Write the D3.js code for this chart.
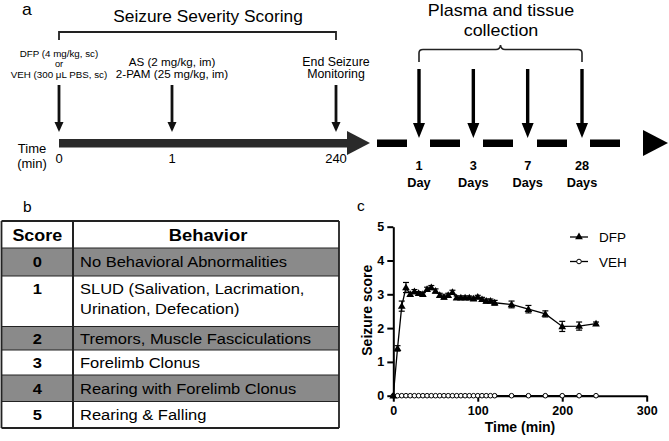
<!DOCTYPE html>
<html>
<head>
<meta charset="utf-8">
<script src="https://cdn.jsdelivr.net/npm/d3@7"></script>
<style>
  body { margin: 0; background: #fff; }
  svg { font-family: "Liberation Sans", Arial, sans-serif; }
</style>
</head>
<body>
<svg id="fig" width="669" height="441"></svg>
<script>
// panel a - timeline
const eventLabels = [
  ['DFP (4 mg/kg, sc)', 'or', 'VEH (300 μL PBS, sc)'],
  ['AS (2 mg/kg, im)', '2-PAM (25 mg/kg, im)'],
  ['End Seizure', 'Monitoring']
];
const eventTicks = ['0', '1', '240'];
const dayNums = ['1', '3', '7', '28'];
const dayUnits = ['Day', 'Days', 'Days', 'Days'];

// panel b - scoring table
const scores = ['0', '1', '2', '3', '4', '5'];
const behaviors = [
  ['No Behavioral Abnormalities'],
  ['SLUD (Salivation, Lacrimation,', 'Urination, Defecation)'],
  ['Tremors, Muscle Fasciculations'],
  ['Forelimb Clonus'],
  ['Rearing with Forelimb Clonus'],
  ['Rearing & Falling']
];

// panel c - seizure score over time
const timeMin = [0, 5, 10, 15, 20, 25, 30, 35, 40, 45, 50, 55, 60, 65, 70, 75, 80, 85, 90, 95, 100,
                 105, 110, 115, 120, 140, 160, 180, 200, 220, 240];
const dfpMean = [0, 1.4, 2.65, 3.2, 3.0, 3.08, 3.03, 3.0, 3.15, 3.2, 3.1, 2.97, 2.92, 2.97, 3.06, 2.9, 2.9, 2.9, 2.9, 2.87, 2.92,
                 2.85, 2.8, 2.8, 2.75, 2.7, 2.56, 2.42, 2.05, 2.06, 2.13];
const dfpSem = [0, 0.08, 0.15, 0.15, 0.06, 0.06, 0.05, 0.05, 0.06, 0.06, 0.06, 0.06, 0.06, 0.06, 0.06, 0.05, 0.05, 0.05, 0.05, 0.05, 0.05,
                0.06, 0.06, 0.06, 0.07, 0.1, 0.11, 0.09, 0.15, 0.12, 0.05];
const vehMean = [0, 0, 0, 0, 0, 0, 0, 0, 0, 0, 0, 0, 0, 0, 0, 0, 0, 0, 0, 0, 0,
                 0, 0, 0, 0, 0, 0, 0, 0, 0, 0];
const xTicks = [0, 100, 200, 300];
const yTicks = [0, 1, 2, 3, 4, 5];

const svg = d3.select('#fig');

// text helper: figure fonts are a bit wider than Arial, so stretch horizontally
function txt(g, x, y, s, size, opt = {}) {
  const sx = opt.sx || 1.1;
  return g.append('text')
    .attr('transform', `translate(${x},${y}) scale(${sx},1)`)
    .attr('font-size', size)
    .attr('font-weight', opt.bold ? 'bold' : null)
    .attr('text-anchor', opt.anchor || 'middle')
    .text(s);
}

// ---------- panel a ----------
const a = svg.append('g');
txt(a, 22, 15, 'a', 16, { anchor: 'start' });
txt(a, 208, 22, 'Seizure Severity Scoring', 16.5, { sx: 1.05 });
a.append('path').attr('d', 'M59,40 V32 H336 V40')
  .attr('fill', 'none').attr('stroke', '#222').attr('stroke-width', 1.8);

const evX = [59, 172, 336];
const evSize = [9.5, 11.3, 12];
eventLabels.forEach((lines, i) => {
  const y0 = lines.length === 3 ? 56.5 : 65.7;
  const dy = lines.length === 3 ? 10.8 : 12.6;
  lines.forEach((t, j) => {
    txt(a, evX[i], y0 + j * dy, t, j === 1 && lines.length === 3 ? 9 : evSize[i], { sx: 1.03 });
  });
  a.append('line').attr('x1', evX[i]).attr('x2', evX[i]).attr('y1', 85).attr('y2', 124)
    .attr('stroke', '#111').attr('stroke-width', 2.8);
  a.append('path').attr('d', `M${evX[i] - 4.5},122 L${evX[i] + 4.5},122 L${evX[i]},132 Z`).attr('fill', '#111');
  txt(a, evX[i], 163, eventTicks[i], 13, { sx: 1.0 });
});
txt(a, 32, 153, 'Time', 13, { sx: 1.0 });
txt(a, 32, 168, '(min)', 13, { sx: 1.0 });

// main solid arrow
a.append('rect').attr('x', 59).attr('y', 139).attr('width', 290).attr('height', 8.5).attr('fill', '#2a2a2a');
a.append('path').attr('d', 'M347,131 L347,155 L370,143 Z').attr('fill', '#2a2a2a');

// dashed continuation
const dashX = [377, 430, 483, 537, 590];
a.selectAll('rect.dash').data(dashX).join('rect').attr('class', 'dash')
  .attr('x', d => d).attr('y', 139.5).attr('width', 30).attr('height', 7.5).attr('fill', '#000');
a.append('path').attr('d', 'M643,130 L643,156 L668,143 Z').attr('fill', '#000');

txt(a, 501, 15.5, 'Plasma and tissue', 16, { sx: 1.12 });
txt(a, 501, 35.5, 'collection', 16, { sx: 1.12 });
a.append('path')
  .attr('d', 'M419,62 V53 Q419,49.5 423,49.5 H496 Q500,49.5 500.5,45 Q501,49.5 505,49.5 H578 Q582,49.5 582,53 V62')
  .attr('fill', 'none').attr('stroke', '#222').attr('stroke-width', 1.6);

const dayX = d3.scalePoint().domain(dayNums).range([419, 582]);
dayNums.forEach((d, i) => {
  const x = dayX(d);
  a.append('line').attr('x1', x).attr('x2', x).attr('y1', 69).attr('y2', 125)
    .attr('stroke', '#000').attr('stroke-width', 3.4);
  a.append('path').attr('d', `M${x - 6},123 L${x + 6},123 L${x},138 Z`).attr('fill', '#000');
  txt(a, x, 170, d, 12.5, { bold: true, sx: 1.02 });
  txt(a, x, 187, dayUnits[i], 12.5, { bold: true, sx: 1.02 });
});

// ---------- panel b ----------
const b = svg.append('g');
txt(b, 23, 212, 'b', 15.5, { anchor: 'start', sx: 1 });
const rowY = [221, 248, 276, 326.5, 350, 375, 401.5, 428];
const tL = 1.5, tR = 339, tDiv = 73;
// shaded rows: scores 0, 2, 4
scores.forEach((s, i) => {
  if (i % 2 === 0) {
    b.append('rect').attr('x', tL).attr('y', rowY[i + 1]).attr('width', tR - tL)
      .attr('height', rowY[i + 2] - rowY[i + 1]).attr('fill', '#8a8a8a');
  }
});
txt(b, (tL + tDiv) / 2, 241, 'Score', 16, { bold: true, sx: 1.12 });
txt(b, (tDiv + tR) / 2 + 2, 241, 'Behavior', 16, { bold: true, sx: 1.15 });
scores.forEach((s, i) => {
  const top = rowY[i + 1];
  const firstBase = behaviors[i].length > 1 ? top + 17.5 : (top + rowY[i + 2]) / 2 + 5.3;
  txt(b, (tL + tDiv) / 2, firstBase, s, 15, { bold: true, sx: 1.1 });
  behaviors[i].forEach((t, j) => {
    txt(b, 80, firstBase + j * 20.7, t, 15, { anchor: 'start', sx: 1.1 });
  });
});
rowY.forEach((yy, i) => {
  b.append('line').attr('x1', tL).attr('x2', tR).attr('y1', yy).attr('y2', yy)
    .attr('stroke', '#222').attr('stroke-width', (i === 0 || i === rowY.length - 1) ? 1.8 : 1);
});
b.append('line').attr('x1', tL).attr('x2', tL).attr('y1', rowY[0]).attr('y2', rowY[rowY.length - 1])
  .attr('stroke', '#222').attr('stroke-width', 1.8);
b.append('line').attr('x1', tDiv).attr('x2', tDiv).attr('y1', rowY[0]).attr('y2', rowY[rowY.length - 1])
  .attr('stroke', '#222').attr('stroke-width', 2);
b.append('line').attr('x1', tR).attr('x2', tR).attr('y1', rowY[0]).attr('y2', rowY[rowY.length - 1])
  .attr('stroke', '#222').attr('stroke-width', 1.8);

// ---------- panel c ----------
const c = svg.append('g');
txt(c, 357, 211, 'c', 15.5, { anchor: 'start', sx: 1 });
const x = d3.scaleLinear().domain([0, 300]).range([393.3, 646.7]);
const y = d3.scaleLinear().domain([0, 5]).range([395.7, 226.7]);

const xAxis = c.append('g').attr('transform', `translate(0,${y(0)})`)
  .call(d3.axisBottom(x).tickValues(xTicks).tickFormat(d3.format('d')).tickSize(6).tickPadding(4).tickSizeOuter(0));
const yAxis = c.append('g').attr('transform', `translate(${x(0)},0)`)
  .call(d3.axisLeft(y).tickValues(yTicks).tickFormat(d3.format('d')).tickSize(6).tickPadding(3).tickSizeOuter(0));
[xAxis, yAxis].forEach(g => {
  g.select('.domain').attr('stroke', '#000').attr('stroke-width', 2);
  g.selectAll('.tick line').attr('stroke', '#000').attr('stroke-width', 2);
  g.selectAll('.tick text').attr('font-size', 12.5).attr('font-weight', 'bold').attr('fill', '#000')
    .attr('font-family', '"Liberation Sans", Arial, sans-serif');
});

txt(c, 520, 432, 'Time (min)', 14, { bold: true, sx: 1.0 });
c.append('text').attr('transform', `translate(372,${y(2.5) - 1}) rotate(-90)`).attr('font-size', 14)
  .attr('font-weight', 'bold').attr('text-anchor', 'middle').text('Seizure score');

const line = d3.line().x(d => x(d[0])).y(d => y(d[1]));
const veh = timeMin.map((t, i) => [t, vehMean[i]]);
const dfp = timeMin.map((t, i) => [t, dfpMean[i], dfpSem[i]]);

c.append('path').datum(veh).attr('d', line).attr('fill', 'none').attr('stroke', '#000').attr('stroke-width', 1.3);
c.selectAll('circle.veh').data(veh).join('circle').attr('class', 'veh')
  .attr('cx', d => x(d[0])).attr('cy', d => y(d[1])).attr('r', 2.3)
  .attr('fill', '#fff').attr('stroke', '#000').attr('stroke-width', 1);

// DFP error bars
const eb = c.append('g').attr('stroke', '#000').attr('stroke-width', 1.2);
dfp.filter(d => d[2] > 0).forEach(d => {
  const cx = x(d[0]);
  eb.append('line').attr('x1', cx).attr('x2', cx).attr('y1', y(d[1] - d[2])).attr('y2', y(d[1] + d[2]));
  eb.append('line').attr('x1', cx - 3).attr('x2', cx + 3).attr('y1', y(d[1] + d[2])).attr('y2', y(d[1] + d[2]));
  eb.append('line').attr('x1', cx - 3).attr('x2', cx + 3).attr('y1', y(d[1] - d[2])).attr('y2', y(d[1] - d[2]));
});
c.append('path').datum(dfp).attr('d', line).attr('fill', 'none').attr('stroke', '#000').attr('stroke-width', 1.3);
const tri = d3.symbol().type(d3.symbolTriangle).size(26);
c.selectAll('path.dfp').data(dfp).join('path').attr('class', 'dfp')
  .attr('d', tri).attr('transform', d => `translate(${x(d[0])},${y(d[1]) + 0.5})`)
  .attr('fill', '#000');

// legend
const leg = c.append('g');
leg.append('line').attr('x1', 570).attr('x2', 588).attr('y1', 237).attr('y2', 237).attr('stroke', '#000').attr('stroke-width', 1.3);
leg.append('path').attr('d', tri).attr('transform', 'translate(579,237)').attr('fill', '#000');
txt(leg, 599, 242, 'DFP', 13.5, { anchor: 'start', sx: 1.0 });
leg.append('line').attr('x1', 570).attr('x2', 588).attr('y1', 261.5).attr('y2', 261.5).attr('stroke', '#000').attr('stroke-width', 1.3);
leg.append('circle').attr('cx', 579).attr('cy', 261.5).attr('r', 2.3).attr('fill', '#fff').attr('stroke', '#000');
txt(leg, 599, 266.5, 'VEH', 13.5, { anchor: 'start', sx: 1.0 });
</script>
</body>
</html>
